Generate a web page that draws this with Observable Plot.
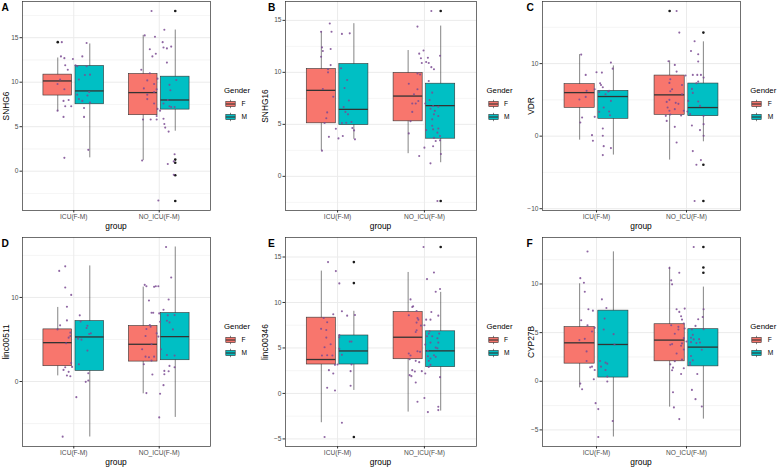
<!DOCTYPE html>
<html><head><meta charset="utf-8">
<script src="https://cdn.jsdelivr.net/npm/d3@7"></script>
<script src="https://cdn.jsdelivr.net/npm/@observablehq/plot@0.6"></script>
<style>
body{margin:0;background:#fff;font-family:"Liberation Sans",Arial,sans-serif}
#fig{position:relative;width:778px;height:467px;overflow:hidden;background:#fff}
.abs{position:absolute;white-space:nowrap;line-height:1}
</style>
</head><body><div id="fig"></div>
<script>
// ---------- data ----------
const groups = ["ICU(F-M)", "NO_ICU(F-M)"];
const genders = ["F", "M"];
const genes = ["SNHG6", "SNHG16", "VDR", "linc00511", "linc00346", "CYP27B"];
const panelLetters = ["A", "B", "C", "D", "E", "F"];

// box stats: [groupIndex, gender, lowerWhisker, q1, median, q3, upperWhisker]
const snhg6Box = [[0,"F",6.7,8.5,10.14,10.85,12.72],[0,"M",1.5,7.52,9.02,11.82,14.3],[1,"F",1.2,6.29,8.83,10.92,15.26],[1,"M",4.49,6.92,8.0,10.62,15.86]];
const snhg16Box = [[0,"F",2.47,5.1,8.27,10.32,13.9],[0,"M",3.56,4.93,6.44,10.8,14.68],[1,"F",2.18,5.29,7.72,9.94,12.1],[1,"M",1.31,3.62,6.8,8.91,14.45]];
const vdrBox = [[0,"F",-0.55,3.9,6.0,7.16,11.24],[0,"M",-2.61,2.39,5.46,6.24,9.68],[1,"F",-3.3,2.94,5.69,8.35,10.37],[1,"M",-0.78,2.75,3.94,7.25,13.0]];
const linc00511Box = [[0,"F",0.67,1.82,4.62,6.2,8.81],[0,"M",-6.6,1.26,5.3,7.19,13.75],[1,"F",-1.46,2.37,4.43,6.6,11.23],[1,"M",-4.27,2.53,5.34,8.14,16.0]];
const linc00346Box = [[0,"F",-3.22,3.18,3.73,8.33,13.45],[0,"M",0.33,3.18,4.67,6.37,9.03],[1,"F",-2.05,3.76,6.18,8.95,13.3],[1,"M",-1.94,2.89,4.68,6.83,11.11]];
const cyp27bBox = [[0,"F",-0.68,1.81,3.95,5.56,10.02],[0,"M",-5.73,0.38,3.78,7.26,13.3],[1,"F",-2.66,2.05,4.23,5.86,11.73],[1,"M",-3.89,1.53,3.51,5.35,9.68]];

// outliers: [groupIndex, gender, value]
const snhg6Out = [[0,"F",14.5],[1,"M",18.0],[1,"M",1.3],[1,"M",0.95],[1,"M",-0.45],[1,"M",-3.35]];
const snhg16Out = [[1,"M",15.9],[1,"M",-2.37]];
const vdrOut = [[1,"F",17.25],[1,"M",14.27],[1,"M",-3.94],[1,"M",-8.94]];
const linc00511Out = [];
const linc00346Out = [[0,"M",14.44],[0,"M",12.13],[0,"M",-4.79],[1,"M",16.1]];
const cyp27bOut = [[1,"M",13.8],[1,"M",11.7],[1,"M",11.15]];

// jittered observations: [groupIndex, jitter offset, value]
const snhg6Pts = [
[0,-0.14,14.5],[0,-0.15,12.9],[0,-0.11,12.7],[0,-0.01,12.6],[0,-0.10,11.9],[0,0.02,11.9],[0,-0.07,11.4],[0,0.04,11.8],[0,0.15,14.4],[0,0.10,12.9],[0,0.15,11.8],[0,0.19,10.85],[0,-0.16,10.3],[0,-0.19,9.8],[0,-0.11,9.2],[0,0.06,10.3],[0,0.13,10.8],[0,0.04,8.6],[0,0.18,8.9],[0,0.16,8.5],[0,-0.06,8.0],[0,-0.12,7.9],[0,0.06,8.1],[0,0.10,7.9],[0,-0.10,7.3],[0,-0.03,7.3],[0,0.12,7.1],[0,0.19,7.7],[0,-0.19,6.8],[0,-0.12,6.1],[0,0.12,6.1],[0,-0.11,1.5],[0,0.17,2.4],
[1,-0.09,18.0],[1,-0.17,15.26],[1,0.06,15.9],[1,-0.05,15.1],[1,-0.11,13.7],[1,-0.04,13.2],[1,-0.08,12.9],[1,0.04,14.5],[1,0.05,13.9],[1,0.09,13.8],[1,0.14,14.0],[1,0.09,12.2],[1,-0.21,11.4],[1,-0.11,11.0],[1,0.20,10.25],[1,-0.02,10.4],[1,-0.14,10.2],[1,-0.06,9.8],[1,-0.18,9.3],[1,-0.14,8.6],[1,-0.06,8.9],[1,-0.03,9.2],[1,0.12,9.7],[1,0.13,9.1],[1,-0.14,8.1],[1,-0.06,7.6],[1,0.05,7.6],[1,0.10,8.0],[1,0.12,7.3],[1,0.18,7.2],[1,0.14,7.2],[1,-0.02,7.0],[1,0.01,6.8],[1,-0.03,6.2],[1,-0.19,5.8],[1,-0.10,5.8],[1,-0.03,5.8],[1,0.05,5.9],[1,0.06,5.3],[1,0.07,4.9],[1,0.11,4.45],[1,-0.20,1.2],[1,0.18,1.9],[1,0.10,0.8],[1,0.17,-0.4],[1,-0.01,-3.3],[1,0.17,1.1]];
const snhg16Pts = [
[0,-0.09,14.7],[0,-0.19,13.9],[0,-0.07,13.9],[0,0.05,13.7],[0,0.14,13.75],[0,-0.18,12.4],[0,-0.17,12.05],[0,-0.08,12.25],[0,-0.19,11.5],[0,-0.08,10.7],[0,-0.11,10.3],[0,0.04,10.4],[0,-0.11,10.0],[0,0.11,9.26],[0,0.08,8.5],[0,-0.17,8.4],[0,-0.05,7.66],[0,0.13,7.3],[0,0.07,6.67],[0,-0.12,6.15],[0,0.09,6.2],[0,-0.13,5.58],[0,0.12,5.96],[0,-0.15,5.13],[0,0.05,5.13],[0,0.10,5.16],[0,0.16,5.22],[0,-0.02,4.58],[0,0.17,4.65],[0,0.19,4.42],[0,-0.10,3.8],[0,0.06,3.88],[0,0.01,3.65],[0,0.20,3.56],[0,-0.18,2.47],
[1,-0.08,14.4],[1,0.08,15.9],[1,-0.01,12.1],[1,-0.06,11.8],[1,-0.04,11.35],[1,0.04,11.4],[1,-0.03,10.9],[1,0.02,11.0],[1,0.05,10.9],[1,0.08,10.5],[1,0.11,10.3],[1,0.18,11.6],[1,-0.18,8.9],[1,-0.08,9.9],[1,-0.05,9.8],[1,0.05,9.17],[1,-0.08,8.37],[1,-0.12,7.9],[1,-0.07,7.24],[1,-0.10,7.0],[1,-0.14,7.0],[1,0.01,7.0],[1,0.09,8.05],[1,0.06,7.34],[1,0.10,6.76],[1,0.07,6.5],[1,0.12,6.3],[1,0.11,5.96],[1,0.16,6.7],[1,0.16,5.8],[1,-0.14,6.2],[1,-0.16,5.3],[1,0.09,5.48],[1,0.09,4.87],[1,0.10,4.52],[1,0.16,4.6],[1,0.15,4.2],[1,0.18,3.88],[1,0.11,3.7],[1,0.18,3.46],[1,0.13,3.4],[1,-0.18,4.13],[1,0.02,4.45],[1,0.00,2.76],[1,0.10,2.9],[1,-0.06,1.96],[1,0.19,2.15],[1,0.07,1.25],[1,0.15,-2.37]];
const vdrPts = [
[0,-0.17,11.24],[0,-0.12,8.44],[0,0.00,8.8],[0,0.06,8.76],[0,0.16,10.14],[0,0.18,9.3],[0,0.04,7.3],[0,0.05,7.06],[0,0.07,6.74],[0,-0.02,6.47],[0,0.03,6.1],[0,0.10,5.78],[0,0.13,6.15],[0,0.14,6.24],[0,-0.19,5.05],[0,-0.12,5.41],[0,-0.11,6.24],[0,0.16,4.86],[0,0.08,3.94],[0,0.14,3.39],[0,0.03,3.35],[0,0.15,2.89],[0,-0.02,2.66],[0,-0.16,2.57],[0,-0.18,1.88],[0,0.07,1.05],[0,-0.05,0.14],[0,-0.04,-0.64],[0,0.07,0.05],[0,0.08,-1.38],[0,0.16,-1.65],[0,0.07,-2.61],
[1,-0.11,17.25],[1,-0.08,14.27],[1,0.09,13.07],[1,0.05,11.74],[1,0.13,11.28],[1,-0.20,10.32],[1,-0.13,9.82],[1,0.13,10.28],[1,-0.11,8.9],[1,-0.01,8.35],[1,0.07,8.44],[1,0.12,8.44],[1,0.16,8.44],[1,0.19,8.07],[1,0.13,7.52],[1,0.11,7.3],[1,-0.18,7.84],[1,-0.19,7.34],[1,-0.05,7.06],[1,0.06,6.51],[1,-0.16,6.47],[1,0.07,5.96],[1,-0.18,6.19],[1,-0.05,5.78],[1,-0.19,5.0],[1,-0.22,4.72],[1,-0.12,4.59],[1,0.02,4.86],[1,-0.09,4.45],[1,0.13,4.77],[1,0.15,4.17],[1,-0.21,3.94],[1,-0.13,3.72],[1,-0.19,3.49],[1,-0.03,3.49],[1,0.01,3.39],[1,-0.18,2.98],[1,0.04,3.03],[1,-0.06,2.84],[1,0.19,2.8],[1,-0.23,2.8],[1,-0.22,2.1],[1,-0.13,1.28],[1,0.06,1.47],[1,0.19,1.65],[1,0.15,0.83],[1,0.19,0.05],[1,-0.11,-0.87],[1,0.07,-2.06],[1,0.16,-3.3],[1,0.11,-3.94],[1,0.09,-8.94]];
const linc00511Pts = [
[0,-0.17,13.16],[0,-0.10,13.7],[0,-0.10,11.19],[0,-0.03,10.3],[0,-0.08,8.9],[0,-0.08,7.27],[0,-0.16,6.68],[0,-0.19,6.2],[0,0.07,7.87],[0,0.08,7.15],[0,0.16,6.64],[0,0.15,6.36],[0,0.20,5.73],[0,0.18,5.65],[0,-0.04,5.81],[0,-0.04,5.42],[0,-0.06,5.22],[0,0.05,5.1],[0,0.09,4.98],[0,-0.09,4.55],[0,0.16,3.68],[0,0.06,2.06],[0,-0.03,2.21],[0,-0.02,1.74],[0,-0.10,1.7],[0,-0.12,1.38],[0,-0.06,1.15],[0,-0.08,0.71],[0,-0.04,0.63],[0,0.17,0.99],[0,0.17,0.12],[0,0.14,-0.04],[0,0.03,-1.86],[0,-0.13,-6.56],
[1,0.08,16.0],[1,0.14,12.37],[1,-0.17,11.5],[1,-0.15,11.34],[1,-0.06,11.26],[1,-0.04,11.34],[1,-0.01,11.34],[1,0.11,9.76],[1,-0.12,9.64],[1,-0.09,8.18],[1,-0.07,8.18],[1,0.05,8.54],[1,0.00,8.1],[1,0.10,7.87],[1,0.18,7.9],[1,-0.11,6.72],[1,-0.10,6.52],[1,-0.15,6.24],[1,0.01,7.11],[1,0.09,7.23],[1,0.12,7.03],[1,0.16,6.2],[1,-0.03,5.73],[1,-0.01,5.34],[1,-0.16,5.42],[1,-0.09,4.43],[1,-0.20,3.83],[1,0.02,3.83],[1,-0.16,2.96],[1,-0.12,2.88],[1,-0.06,2.96],[1,-0.09,2.49],[1,0.09,3.16],[1,0.18,3.08],[1,-0.18,2.06],[1,0.12,1.86],[1,0.18,1.7],[1,0.06,1.26],[1,0.11,1.22],[1,0.06,0.87],[1,-0.08,0.83],[1,-0.15,-1.38],[1,0.01,-1.46],[1,0.05,-0.43],[1,0.00,-4.27]];
const linc00346Pts = [
[0,-0.11,14.44],[0,-0.02,13.45],[0,0.02,12.1],[0,0.05,9.03],[0,-0.05,8.7],[0,-0.16,8.3],[0,0.11,8.55],[0,0.20,8.63],[0,-0.12,7.82],[0,-0.19,7.1],[0,-0.13,6.98],[0,-0.13,6.14],[0,0.02,6.43],[0,0.02,6.18],[0,-0.08,5.41],[0,-0.15,5.08],[0,-0.18,4.17],[0,-0.12,4.2],[0,-0.06,4.17],[0,0.02,4.9],[0,0.14,5.7],[0,0.16,5.7],[0,0.00,3.18],[0,-0.03,3.14],[0,0.16,3.18],[0,0.05,4.24],[0,-0.10,2.56],[0,-0.05,2.19],[0,0.15,2.45],[0,-0.12,0.62],[0,-0.03,0.33],[0,0.15,0.84],[0,0.05,-3.22],[0,-0.15,-4.79],
[1,-0.01,16.1],[1,0.03,12.57],[1,0.11,13.3],[1,0.13,11.18],[1,0.18,11.48],[1,-0.16,10.34],[1,-0.14,9.5],[1,-0.13,9.58],[1,-0.09,9.06],[1,-0.18,8.59],[1,-0.08,8.3],[1,-0.07,8.11],[1,0.02,8.11],[1,0.07,8.11],[1,0.08,8.95],[1,0.16,8.55],[1,-0.09,7.79],[1,-0.04,7.46],[1,0.00,7.49],[1,-0.09,6.94],[1,-0.10,6.76],[1,0.06,6.83],[1,0.05,6.58],[1,0.03,6.29],[1,0.09,6.29],[1,0.17,6.58],[1,0.15,6.07],[1,0.16,5.59],[1,0.07,5.59],[1,0.01,5.37],[1,0.13,5.04],[1,0.15,4.97],[1,0.04,4.68],[1,-0.18,4.39],[1,-0.16,4.17],[1,-0.08,4.64],[1,-0.05,4.57],[1,0.11,4.2],[1,0.13,4.02],[1,0.04,4.09],[1,0.07,3.84],[1,0.05,3.58],[1,-0.17,3.76],[1,-0.10,3.58],[1,-0.06,3.44],[1,-0.14,2.56],[1,-0.11,2.41],[1,-0.03,2.45],[1,0.01,2.19],[1,-0.17,2.01],[1,-0.15,1.9],[1,0.07,3.14],[1,0.05,2.92],[1,-0.10,1.21],[1,0.18,1.79],[1,-0.08,-0.91],[1,0.00,-0.51],[1,0.04,-2.05],[1,0.16,-1.83],[1,0.16,-1.46]];
const cyp27bPts = [
[0,-0.10,13.33],[0,-0.18,10.6],[0,-0.14,10.13],[0,-0.13,9.2],[0,-0.09,7.4],[0,-0.04,7.26],[0,0.06,8.42],[0,0.11,7.53],[0,-0.17,6.27],[0,-0.10,5.76],[0,-0.02,5.49],[0,-0.05,5.11],[0,0.09,6.44],[0,0.08,5.32],[0,-0.19,4.23],[0,-0.13,4.36],[0,0.19,4.84],[0,0.20,3.78],[0,-0.11,3.07],[0,-0.11,2.08],[0,0.04,2.08],[0,0.10,1.91],[0,0.12,1.81],[0,-0.05,1.5],[0,-0.07,1.43],[0,0.05,1.5],[0,-0.02,1.16],[0,0.10,1.16],[0,0.12,0.48],[0,0.12,-0.03],[0,-0.03,0.2],[0,-0.18,-0.24],[0,-0.16,-0.82],[0,-0.01,-2.25],[0,0.02,-2.86],[0,0.18,-4.09],[0,0.02,-5.73],
[1,0.08,13.8],[1,-0.19,11.63],[1,-0.08,11.15],[1,-0.17,10.37],[1,-0.16,9.96],[1,-0.11,7.4],[1,-0.02,7.47],[1,-0.08,7.13],[1,-0.06,6.68],[1,-0.05,6.34],[1,-0.03,5.93],[1,0.19,7.4],[1,0.18,6.61],[1,0.13,6.37],[1,0.19,5.35],[1,-0.17,5.76],[1,-0.09,5.59],[1,-0.09,5.32],[1,-0.02,5.42],[1,0.06,5.32],[1,0.10,5.69],[1,-0.13,4.88],[1,-0.03,4.43],[1,0.07,4.77],[1,0.05,4.47],[1,0.08,4.3],[1,0.14,4.33],[1,0.05,4.02],[1,0.00,4.09],[1,-0.05,3.89],[1,-0.16,3.82],[1,-0.18,3.75],[1,-0.06,3.65],[1,0.15,3.99],[1,0.11,3.92],[1,0.17,3.24],[1,-0.03,3.27],[1,-0.11,2.86],[1,0.05,2.59],[1,-0.05,2.22],[1,-0.13,2.05],[1,-0.18,1.74],[1,-0.15,1.4],[1,-0.16,1.13],[1,0.07,2.15],[1,0.04,1.91],[1,0.04,1.67],[1,-0.03,1.33],[1,-0.06,0.75],[1,0.12,0.75],[1,-0.15,-1.13],[1,0.06,-0.89],[1,0.10,-1.84],[1,0.17,-2.59],[1,-0.14,-2.69],[1,-0.08,-3.89]];

// y-axis tick labels per panel
const snhg6Ticks = [0, 5, 10, 15];
const snhg16Ticks = [0, 5, 10, 15];
const vdrTicks = [-10, 0, 10];
const linc00511Ticks = [0, 10];
const linc00346Ticks = [-5, 0, 5, 10, 15];
const cyp27bTicks = [-5, 0, 5, 10];

// ---------- style / layout ----------
const fillColors = ["#F8766D", "#00BFC4"];
const FONT = '"Liberation Sans", Arial, Helvetica, sans-serif';
const colCell = [0, 255, 510], colPL = [22, 285, 542], colPR = [210, 476, 740];
const rowCell = [0, 230], rowPT = [1, 237], rowPB = [210, 446], rowH = [233, 237];
const legendX = [224, 486.5, 750.3];
const letterX = [1.5, 268, 526.5];
const ylabX = [5.5, 265, 531];
const dodge = 0.1875, halfW = 0.1675;

const panelSpecs = [
  [snhg6Box, snhg6Out, snhg6Pts, snhg6Ticks],
  [snhg16Box, snhg16Out, snhg16Pts, snhg16Ticks],
  [vdrBox, vdrOut, vdrPts, vdrTicks],
  [linc00511Box, linc00511Out, linc00511Pts, linc00511Ticks],
  [linc00346Box, linc00346Out, linc00346Pts, linc00346Ticks],
  [cyp27bBox, cyp27bOut, cyp27bPts, cyp27bTicks]
];

const fig = document.getElementById("fig");
function addText(txt, x, y, css) {
  const d = document.createElement("div");
  d.className = "abs";
  d.textContent = txt;
  d.style.left = x + "px"; d.style.top = y + "px";
  Object.assign(d.style, css || {});
  fig.appendChild(d);
  return d;
}

const xc = (gi, sex) => gi + 1 + (sex === "F" ? -dodge : dodge);

panelSpecs.forEach(([box, out, pts, ticks], i) => {
  const col = i % 3, row = Math.floor(i / 3);
  const boxes = box.map(([gi, sex, lo, q1, med, q3, hi]) => ({gi, sex, lo, q1, med, q3, hi}));
  const outs = out.map(([gi, sex, v]) => ({gi, sex, v}));
  const obs = pts.map(([gi, dx, v]) => ({x: gi + 1 + dx, v}));
  const all = [...boxes.flatMap(b => [b.lo, b.hi]), ...outs.map(o => o.v), ...obs.map(o => o.v)];
  const mn = d3.min(all), mx = d3.max(all), pad = (mx - mn) * 0.05;
  const ydom = [mn - pad, mx + pad];
  const step = ticks[1] - ticks[0];
  const minor = d3.range(ticks[0] - step * 5.5, ydom[1], step).filter(v => v > ydom[0] && v < ydom[1]);

  const left = colCell[col], top = rowCell[row];
  const width = colPR[col] + 1 - left, height = rowH[row];
  const chart = Plot.plot({
    width, height,
    marginLeft: colPL[col] - left, marginRight: 1,
    marginTop: rowPT[row] - top, marginBottom: height - (rowPB[row] - top),
    style: {fontFamily: FONT, background: "transparent", overflow: "visible"},
    x: {domain: [0.4, 2.6], axis: null},
    y: {domain: ydom, axis: null},
    color: {domain: genders, range: fillColors},
    marks: [
      Plot.ruleY(minor, {stroke: "#ebebeb", strokeWidth: 0.5}),
      Plot.ruleY(ticks, {stroke: "#ebebeb", strokeWidth: 1}),
      Plot.ruleX([1, 2], {stroke: "#ebebeb", strokeWidth: 1}),
      Plot.ruleX(boxes, {x: d => xc(d.gi, d.sex), y1: "lo", y2: "hi", stroke: "#333", strokeWidth: 0.6}),
      Plot.rect(boxes, {x1: d => xc(d.gi, d.sex) - halfW, x2: d => xc(d.gi, d.sex) + halfW, y1: "q1", y2: "q3", fill: "sex", stroke: "#333", strokeWidth: 0.6}),
      Plot.ruleY(boxes, {y: "med", x1: d => xc(d.gi, d.sex) - halfW, x2: d => xc(d.gi, d.sex) + halfW, stroke: "#333", strokeWidth: 1.3}),
      Plot.dot(outs, {x: d => xc(d.gi, d.sex), y: "v", r: 1.3, fill: "#1a1a1a", stroke: null}),
      Plot.dot(obs, {x: "x", y: "v", r: 1.05, fill: "#7b4b93", fillOpacity: 0.85, stroke: null}),
      Plot.frame({stroke: "#333", strokeWidth: 0.7}),
      Plot.axisY(ticks, {tickSize: 2.5, tickPadding: 1.5, fontSize: 6.6, stroke: "#333", fill: "#4d4d4d", label: null}),
      Plot.axisX([1, 2], {tickSize: 2.5, tickPadding: 1.5, fontSize: 6.6, stroke: "#333", fill: "#4d4d4d", label: null, tickFormat: d => groups[d - 1]})
    ]
  });
  chart.style.position = "absolute";
  chart.style.left = left + "px";
  chart.style.top = top + "px";
  fig.appendChild(chart);

  // axis titles
  const pcx = (colPL[col] + colPR[col]) / 2, pcy = (rowPT[row] + rowPB[row]) / 2;
  addText("group", pcx, rowPB[row] + 16, {fontSize: "8.4px", color: "#000", transform: "translate(-50%,-50%)"});
  addText(genes[i], ylabX[col], pcy, {fontSize: "8.4px", color: "#000", transform: "translate(-50%,-50%) rotate(-90deg)"});
  addText(panelLetters[i], letterX[col], rowPT[row] + 2, {fontSize: "10.2px", fontWeight: "bold", color: "#000"});

  // legend
  const lx = legendX[col], ly = rowPT[row] + 89.7;
  addText("Gender", lx, ly, {fontSize: "7.8px", color: "#000", transform: "translateY(-50%)"});
  genders.forEach((g, k) => {
    const ky = ly + 8.2 + k * 13;
    const s = document.createElementNS("http://www.w3.org/2000/svg", "svg");
    s.setAttribute("width", 11); s.setAttribute("height", 10);
    s.style.position = "absolute"; s.style.left = (lx + 1) + "px"; s.style.top = ky + "px";
    s.innerHTML = `<line x1="5.5" x2="5.5" y1="0.8" y2="9.2" stroke="#333" stroke-width="0.6"/>` +
      `<rect x="0.8" y="2.4" width="9.4" height="5.2" fill="${fillColors[k]}" stroke="#333" stroke-width="0.6"/>` +
      `<line x1="0.8" x2="10.2" y1="5" y2="5" stroke="#333" stroke-width="1.1"/>`;
    fig.appendChild(s);
    addText(g, lx + 17.5, ky + 5, {fontSize: "6.6px", color: "#000", transform: "translateY(-50%)"});
  });
});
</script></body></html>
